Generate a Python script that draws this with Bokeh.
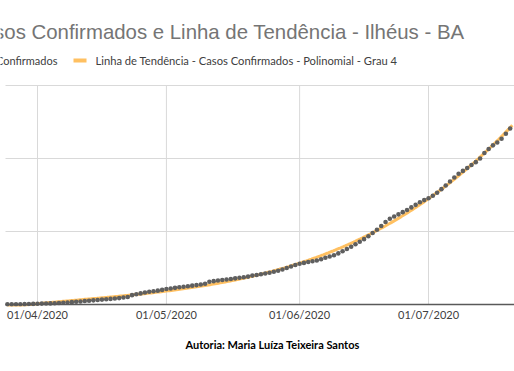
from datetime import datetime, timedelta
import numpy as np
from bokeh.plotting import figure
from bokeh.models import Range1d, FixedTicker, Label, DatetimeTickFormatter, BoxAnnotation, Title
from bokeh.embed import file_html
from bokeh.resources import INLINE

# ---- data ----
start_date = datetime(2020, 3, 25)
casos = [2, 2, 3, 4, 5, 6, 8,
         10, 12, 13, 15, 17, 20, 23, 27, 32, 37, 42, 47, 52, 57, 62, 67, 72, 77, 82, 88,
         95, 102, 128, 140, 152, 165, 174, 182, 190, 200, 212, 220, 228, 236, 243, 251,
         258, 266, 274, 284, 312, 320, 328, 335, 342, 350, 358, 366, 374, 382, 396, 405,
         415, 424, 434, 448, 463, 480, 500, 520, 540, 558, 570, 582, 593, 603, 620, 640,
         658, 675, 700, 730, 760, 790, 825, 860, 895, 935, 980, 1025, 1075, 1130, 1175,
         1205, 1235, 1265, 1295, 1330, 1365, 1400, 1430, 1455, 1490, 1530, 1580, 1630,
         1685, 1740, 1790, 1830, 1870, 1910, 1950, 2000, 2075, 2130, 2180, 2220, 2270,
         2340, 2410]
datas = [start_date + timedelta(days=i) for i in range(len(casos))]
tick_dates = [datetime(2020, 4, 1), datetime(2020, 5, 1), datetime(2020, 6, 1), datetime(2020, 7, 1)]
y_ticks = [1000, 2000, 3000]

titulo = "Casos Confirmados e Linha de Tendência - Ilhéus - BA"
serie1 = "Casos Confirmados"
serie2 = "Linha de Tendência - Casos Confirmados - Polinomial -  Grau 4"
autoria = "Autoria: Maria Luíza Teixeira Santos"

# trend line (4th degree polynomial fit of the data)
t = np.arange(len(casos))
coef = np.polyfit(t, np.array(casos, dtype=float), 4)
tt = np.linspace(0, len(casos) - 0.5, 300)
trend = np.polyval(coef, tt)
DAY = 86400000.0

def ms(d):
    return d.timestamp() * 1000

ms0 = ms(start_date)
trend_x = ms0 + tt * DAY
tick_ms = [ms(d) for d in tick_dates]

W, H = 514, 371
apr1 = ms(datetime(2020, 4, 1))
px_day = 4.297
def xpx(px):  # data x at canvas pixel px
    return apr1 + (px - 37) / px_day * DAY

FB = 306                      # frame bottom (canvas px); frame top = 0
per_px = 3000 / 219.0         # value per pixel (0 at y=304, 3000 at y=85)
y_start = -(FB - 304) * per_px
y_end = 3000 + 85 * per_px
x_start, x_end = xpx(0), xpx(W)
x_left = xpx(5)

p = figure(width=W, height=H, output_backend="svg", toolbar_location=None,
           x_axis_type="datetime",
           x_range=Range1d(x_start, x_end), y_range=Range1d(y_start, y_end),
           min_border_left=0, min_border_right=0, min_border_top=0, min_border_bottom=H - FB,
           margin=(0, 0, 0, 0))
p.outline_line_color = None
p.background_fill_color = "white"
p.border_fill_color = "white"

p.yaxis.visible = False
p.xgrid.visible = False
p.ygrid.visible = False

# grid lines
p.segment(x0=[x_left] * len(y_ticks), x1=[x_end] * len(y_ticks), y0=y_ticks, y1=y_ticks,
          line_color="#d9d9d9", line_width=1)
p.segment(x0=tick_ms, x1=tick_ms, y0=[0] * len(tick_ms), y1=[max(y_ticks)] * len(tick_ms),
          line_color="#d9d9d9", line_width=1)

p.xaxis.ticker = FixedTicker(ticks=tick_ms)
p.xaxis.formatter = DatetimeTickFormatter(days="%d/%m/%Y", months="%d/%m/%Y")
p.xaxis.major_tick_line_color = None
p.xaxis.minor_tick_line_color = None
p.xaxis.axis_line_color = None
p.xaxis.major_label_text_font = "Lato"
p.xaxis.major_label_text_font_size = "11px"
p.xaxis.major_label_text_color = "#404040"
p.xaxis.major_label_standoff = -5

p.line(trend_x, trend, line_color="#FFC061", line_width=3)
p.scatter(datas, casos, size=4.6, fill_color="#5f5f5f", line_color=None)

# category axis line
p.segment(x0=[x_left], x1=[x_end], y0=[0], y1=[0], line_color="#595959", line_width=1.3)

# title / legend (frame covers the top of the canvas; screen units from frame bottom-left)
p.add_layout(Label(x=464, y=FB - 31, x_units="screen", y_units="screen", text=titulo,
                   text_align="right", text_baseline="middle",
                   text_font="Liberation Sans", text_font_size="20.4px", text_color="#757575"))
p.add_layout(Label(x=57, y=FB - 60, x_units="screen", y_units="screen", text=serie1,
                   text_align="right", text_baseline="middle",
                   text_font="Lato", text_font_size="11px", text_color="#404040"))
p.add_layout(Label(x=95, y=FB - 60, x_units="screen", y_units="screen", text=serie2,
                   text_align="left", text_baseline="middle",
                   text_font="Lato", text_font_size="11.2px", text_color="#404040"))
p.add_layout(BoxAnnotation(left=73, right=86, top=FB - 58, bottom=FB - 62,
                           left_units="screen", right_units="screen",
                           top_units="screen", bottom_units="screen",
                           fill_color="#FFC061", fill_alpha=1, line_color=None, level="overlay"))

# footer
p.add_layout(Title(text=autoria, align="left", offset=185, text_font="Lato", standoff=24,
                   text_font_size="11px", text_font_style="bold", text_color="#000000"), "below")

open("out.html", "w").write(file_html(p, INLINE))
